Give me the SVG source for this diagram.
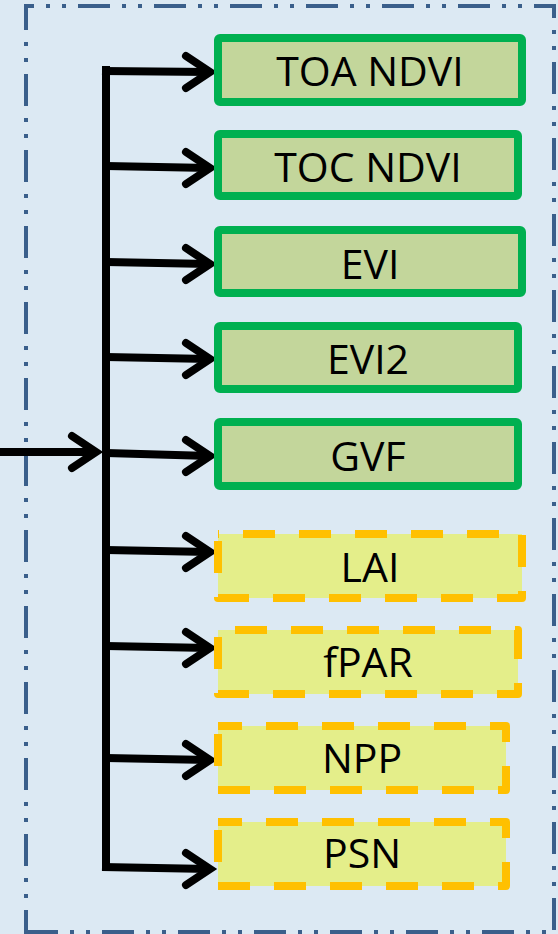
<svg xmlns="http://www.w3.org/2000/svg" width="558" height="934" viewBox="0 0 558 934">
  <defs>
    <style>
      .frame { stroke: #3A5F8B; stroke-width: 4; fill: none; stroke-dasharray: 32 12 4 12 4 12; }
      .idx rect { fill: #C3D69B; stroke: #00B050; stroke-width: 8; stroke-linejoin: round; }
      .bio rect { fill: #E4EE8A; stroke: #FFC000; stroke-width: 8; stroke-linejoin: round; stroke-dasharray: 32 24; }
      text { font-family: "Open Sans", "Noto Sans", "Liberation Sans", sans-serif; font-size: 41px; fill: #000; text-anchor: middle; }
      .wire { stroke: #000; stroke-width: 8; fill: none; }
      .head { stroke: #000; stroke-width: 8; fill: none; stroke-linecap: round; stroke-linejoin: miter; stroke-miterlimit: 10; }
    </style>
  </defs>

  <!-- panel background -->
  <rect x="0" y="0" width="558" height="934" fill="#DCE9F3"/>

  <!-- dash-dot-dot frame, one line per side -->
  <g id="frame">
    <path class="frame" d="M24,6 H556" stroke-dashoffset="22"/>
    <path class="frame" d="M26,4 V934" stroke-dashoffset="6"/>
    <path class="frame" d="M554,4 V934" stroke-dashoffset="18"/>
    <path class="frame" d="M24,932 H556" stroke-dashoffset="74"/>
  </g>

  <!-- connectors: trunk, feed line and branches with open chevron heads -->
  <g id="connectors">
    <path class="wire" d="M106,70 V867" stroke-linecap="square"/>

    <path class="wire" d="M0,452 L96,452"/>
    <path class="head" d="M72,436 L96,452 L72,468"/>

    <path class="wire" d="M102,71 L210,72"/>
    <path class="head" d="M186,56 L210,72 L186,88"/>

    <path class="wire" d="M106,166 L210,168"/>
    <path class="head" d="M186,152 L210,168 L186,184"/>

    <path class="wire" d="M106,262 L210,264"/>
    <path class="head" d="M186,248 L210,264 L186,280"/>

    <path class="wire" d="M106,357 L210,359"/>
    <path class="head" d="M186,343 L210,359 L186,375"/>

    <path class="wire" d="M106,453 L210,456"/>
    <path class="head" d="M186,440 L210,456 L186,472"/>

    <path class="wire" d="M106,550 L210,552"/>
    <path class="head" d="M186,536 L210,552 L186,568"/>

    <path class="wire" d="M106,646 L210,648"/>
    <path class="head" d="M186,632 L210,648 L186,664"/>

    <path class="wire" d="M106,758 L210,760"/>
    <path class="head" d="M186,744 L210,760 L186,776"/>

    <path class="wire" d="M102,867 L210,869"/>
    <path class="head" d="M186,853 L210,869 L186,885"/>
  </g>

  <!-- vegetation index products -->
  <g id="toa-ndvi" class="idx">
    <rect x="218" y="38" width="304" height="64" rx="2"/>
    <text x="370" y="86">TOA NDVI</text>
  </g>
  <g id="toc-ndvi" class="idx">
    <rect x="218" y="134" width="300" height="62" rx="2"/>
    <text x="368" y="182">TOC NDVI</text>
  </g>
  <g id="evi" class="idx">
    <rect x="218" y="230" width="304" height="63" rx="2"/>
    <text x="370" y="279">EVI</text>
  </g>
  <g id="evi2" class="idx">
    <rect x="218" y="326" width="300" height="63" rx="2"/>
    <text x="368" y="374">EVI2</text>
  </g>
  <g id="gvf" class="idx">
    <rect x="218" y="422" width="300" height="64" rx="2"/>
    <text x="368" y="471">GVF</text>
  </g>

  <!-- biophysical products -->
  <g id="lai" class="bio">
    <rect x="218" y="534" width="304" height="64" stroke-dashoffset="31"/>
    <text x="370" y="582">LAI</text>
  </g>
  <g id="fpar" class="bio">
    <rect x="218" y="630" width="300" height="64" stroke-dashoffset="39"/>
    <text x="368" y="677">fPAR</text>
  </g>
  <g id="npp" class="bio">
    <rect x="218" y="726" width="288" height="64" stroke-dashoffset="8"/>
    <text x="362" y="773">NPP</text>
  </g>
  <g id="psn" class="bio">
    <rect x="218" y="822" width="288" height="64" stroke-dashoffset="8"/>
    <text x="362" y="868">PSN</text>
  </g>
</svg>
